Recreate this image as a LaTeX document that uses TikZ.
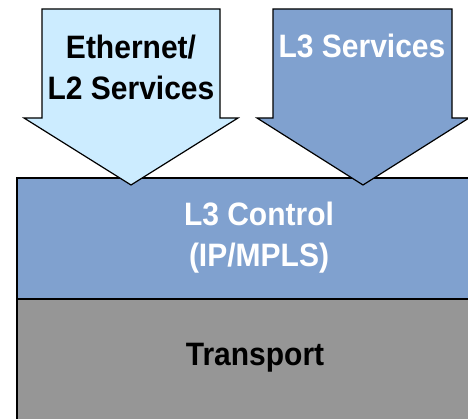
\documentclass[tikz,border=0pt]{standalone}
\usepackage{fontspec}
\setmainfont{Liberation Sans}
\definecolor{lightblue}{RGB}{204,236,255}
\definecolor{midblue}{RGB}{128,161,207}
\definecolor{midgray}{RGB}{150,150,150}
\tikzset{
  layer/.style={draw=black, line width=1.2pt},
  bigarrow/.style={draw=black, line width=1.2pt, line join=miter},
  label/.style={font=\bfseries\fontsize{30}{38}\selectfont, align=center, inner sep=0pt, yscale=1.08, transform shape}
}

\begin{document}
\begin{tikzpicture}[x=1pt, y=1pt]
	\useasboundingbox (0, 0) rectangle (468, 419);
	\clip (0, 0) rectangle (468, 419);
	% layers
	\draw [layer, fill=midgray] (17, -10) rectangle (501, 120);
	\draw [layer, fill=midblue] (17, 120) rectangle (501, 241);
	% arrows
	\draw [bigarrow, fill=lightblue] (42, 410) -- (220, 410) -- (220, 301) -- (238, 301) -- (131, 234) -- (24, 301) -- (42, 301) -- cycle;
	\draw [bigarrow, fill=midblue] (273, 410) -- (452, 410) -- (452, 301) -- (469, 301) -- (363, 234) -- (257, 301) -- (273, 301) -- cycle;
	% texts
	\node [label] (eth) at (131, 352) {Ethernet/\\L2 Services};
	\node [label, text=white] (l3s) at (362, 373) {L3 Services};
	\node [label, text=white] (ctrl) at (259, 181) {L3 Control\\(IP/MPLS)};
	\node [label] (trans) at (255, 61) {Transport};
\end{tikzpicture}
\end{document}
